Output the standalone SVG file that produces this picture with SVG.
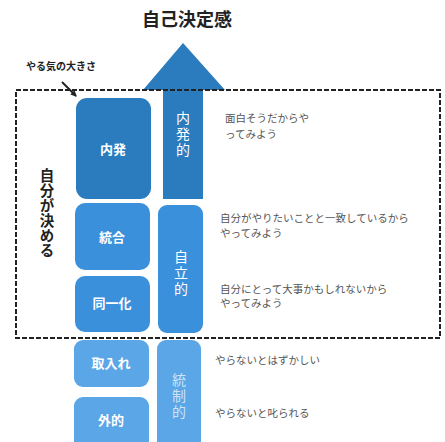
<svg xmlns="http://www.w3.org/2000/svg" width="445" height="442" viewBox="0 0 445 442">
<defs>
<style>
text{font-family:"Noto Sans CJK JP","Noto Sans CJK SC",sans-serif}
.title{font-size:18px;font-weight:bold;fill:#222}
.lbl{font-size:13px;font-weight:bold;fill:#fff;text-anchor:middle}
.vt{font-size:14px;fill:#fff;writing-mode:vertical-rl;letter-spacing:2px}
.vt2{font-size:14px;fill:#cfe3f5;writing-mode:vertical-rl;letter-spacing:2px}
.desc{font-size:10.5px;fill:#555}
.dark{fill:#2a7cbf}
.mid{fill:#3a90da}
.light{fill:#5aa6e6}
</style>
<marker id="ah" markerWidth="6" markerHeight="6" refX="5" refY="3" orient="auto" markerUnits="userSpaceOnUse">
<path d="M0,0 L6,3 L0,6 z" fill="#222"/>
</marker>
</defs>
<rect width="445" height="442" fill="#fff"/>
<text class="title" x="187" y="26" text-anchor="middle">自己決定感</text>

<g id="arrow">
<path class="dark" d="M183,43 L225,90 L203,90 L203,199 L163,199 L163,90 L143,90 Z"/>
<text class="vt" x="183" y="111">内発的</text>
</g>

<g id="frame">
<rect x="16" y="90" width="424" height="248" fill="none" stroke="#222" stroke-width="2" stroke-dasharray="5,2"/>
</g>

<g id="motivation-label">
<text x="26" y="70" style="font-size:10px;font-weight:bold;fill:#222">やる気の大きさ</text>
</g>
<g id="connectors">
<line x1="62" y1="82" x2="76" y2="96" stroke="#222" stroke-width="2" marker-end="url(#ah)"/>
</g>

<g id="self-decide">
<text x="47" y="168" style="font-size:14.5px;font-weight:bold;fill:#222;writing-mode:vertical-rl;letter-spacing:0.5px">自分が決める</text>
</g>

<g id="naihatsu">
<rect class="dark" x="76" y="98" width="75" height="101" rx="11"/>
<text class="lbl" x="113" y="154">内発</text>
</g>
<g id="tougou">
<rect class="mid" x="75" y="203" width="75" height="67" rx="10"/>
<text class="lbl" x="112" y="242">統合</text>
</g>
<g id="douitsuka">
<rect class="mid" x="75" y="276" width="75" height="56" rx="10"/>
<text class="lbl" x="112" y="308">同一化</text>
</g>
<g id="toriire">
<rect class="light" x="74" y="340" width="75" height="47" rx="9"/>
<text class="lbl" x="111" y="368">取入れ</text>
</g>
<g id="gaiteki">
<rect class="light" x="74" y="397" width="75" height="55" rx="9"/>
<text class="lbl" x="111" y="425">外的</text>
</g>

<g id="jiritsu">
<rect class="mid" x="158" y="205" width="45" height="128" rx="9"/>
<text class="vt" x="181" y="250">自立的</text>
</g>
<g id="tousei">
<rect class="light" x="157" y="340" width="44" height="112" rx="9"/>
<text class="vt2" x="179" y="373">統制的</text>
</g>

<g id="descriptions">
<text class="desc" x="225" y="122">面白そうだからや</text>
<text class="desc" x="225" y="138">ってみよう</text>
<text class="desc" x="220" y="222">自分がやりたいことと一致しているから</text>
<text class="desc" x="220" y="237">やってみよう</text>
<text class="desc" x="220" y="293">自分にとって大事かもしれないから</text>
<text class="desc" x="220" y="307">やってみよう</text>
<text class="desc" x="215" y="364">やらないとはずかしい</text>
<text class="desc" x="215" y="417">やらないと叱られる</text>
</g>
</svg>
